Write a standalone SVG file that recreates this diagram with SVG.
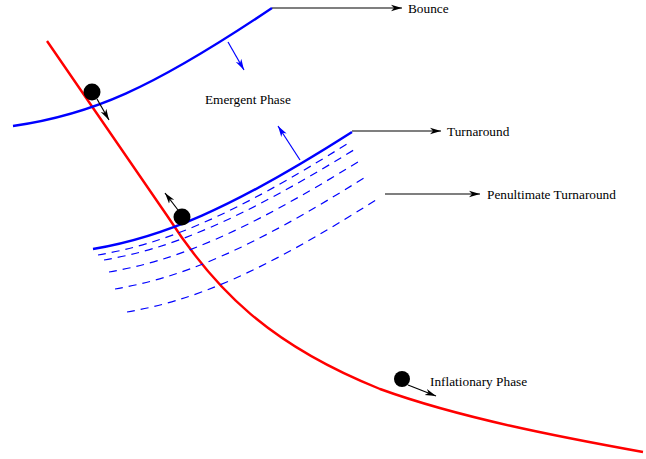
<svg xmlns="http://www.w3.org/2000/svg" width="646" height="459" viewBox="0 0 646 459">
<style>
.lbl{font-family:"Liberation Serif","Times New Roman",serif;font-size:13.3px;fill:#000}
.blue{fill:none;stroke:#0000ff;stroke-width:2.4}
.dash{fill:none;stroke:#0000ff;stroke-width:1.2;stroke-dasharray:8,6}
.red{fill:none;stroke:#ff0000;stroke-width:2.4}
.conn{fill:none;stroke:#000;stroke-width:1.2}
.barr{fill:none;stroke:#0000ff;stroke-width:1.2}
.ball{fill:#000}
</style>
<defs>
<marker id="ak" markerWidth="12" markerHeight="8" refX="11" refY="4" orient="auto" markerUnits="userSpaceOnUse">
<path d="M0,0.8 L11,4 L0,7.2 L3,4 Z" fill="#000"/>
</marker>
<marker id="ab" markerWidth="12" markerHeight="8" refX="11" refY="4" orient="auto" markerUnits="userSpaceOnUse">
<path d="M0,0.8 L11,4 L0,7.2 L3,4 Z" fill="#0000ff"/>
</marker>
</defs>
<g id="inflaton-trajectory">
<path class="red" d="M47,41 L168,217 C215,290 270,345 380,389 C460,418 560,437 643,452"/>
</g>
<g id="bounce">
<path class="blue" d="M13,126 C90,115 150,90 272,8"/>
</g>
<g id="turnaround">
<path class="blue" d="M93,249 C160,238 230,210 352,132"/>
</g>
<g id="penultimate-turnarounds">
<path class="dash" d="M98,255 c65,-11 133,-38 252,-113"/>
<path class="dash" d="M104,260 c65,-11 133,-38 253,-112"/>
<path class="dash" d="M109,272 c65,-11 133,-38 252,-112"/>
<path class="dash" d="M115,289 c65,-11 133,-38 252,-113"/>
<path class="dash" d="M127,312 c65,-11 133,-38 252,-114"/>
</g>
<g id="ball-1">
<circle class="ball" cx="92" cy="92" r="8.5"/>
</g>
<g id="ball-2">
<circle class="ball" cx="182" cy="217" r="8.5"/>
</g>
<g id="ball-3">
<circle class="ball" cx="402" cy="379" r="8"/>
</g>
<g id="labels">
<text class="lbl" x="408" y="13">Bounce</text>
<text class="lbl" x="205" y="104">Emergent Phase</text>
<text class="lbl" x="447" y="136">Turnaround</text>
<text class="lbl" x="487" y="199">Penultimate Turnaround</text>
<text class="lbl" x="430" y="386">Inflationary Phase</text>
</g>
<g id="connectors">
<path class="conn" d="M272,8 L402,8" marker-end="url(#ak)"/>
<path class="conn" d="M352,131 L441,131" marker-end="url(#ak)"/>
<path class="conn" d="M385,194 L480,194" marker-end="url(#ak)"/>
<path class="barr" d="M228,42 L244,70" marker-end="url(#ab)"/>
<path class="barr" d="M300,160 L278,126" marker-end="url(#ab)"/>
<path class="conn" d="M97,99 L109,120" marker-end="url(#ak)"/>
<path class="conn" d="M178,210 L165,193" marker-end="url(#ak)"/>
<path class="conn" d="M408,385 L436,396" marker-end="url(#ak)"/>
</g>
</svg>
